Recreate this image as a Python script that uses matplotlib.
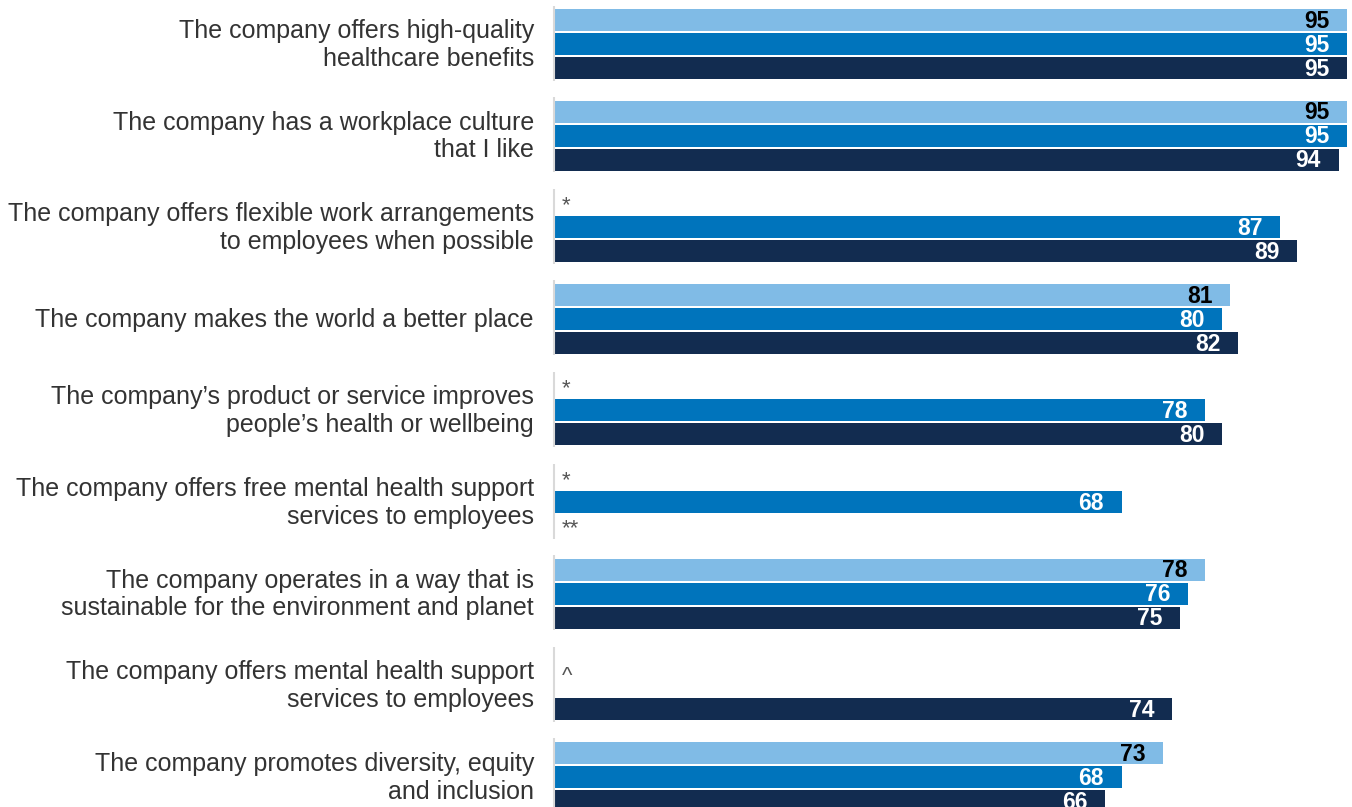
import matplotlib.pyplot as plt

plt.rcParams['font.family'] = ['Liberation Sans', 'DejaVu Sans']

categories = [
    "The company offers high-quality\nhealthcare benefits",
    "The company has a workplace culture\nthat I like",
    "The company offers flexible work arrangements\nto employees when possible",
    "The company makes the world a better place",
    "The company\u2019s product or service improves\npeople\u2019s health or wellbeing",
    "The company offers free mental health support\nservices to employees",
    "The company operates in a way that is\nsustainable for the environment and planet",
    "The company offers mental health support\nservices to employees",
    "The company promotes diversity, equity\nand inclusion",
]

# three survey waves; None = item not asked, with the footnote mark shown instead
light_vals = [95, 95, None, 81, None, None, 78, None, 73]
mid_vals = [95, 95, 87, 80, 78, 68, 76, None, 68]
dark_vals = [95, 94, 89, 82, 80, None, 75, 74, 66]
light_notes = [None, None, "*", None, "*", "*", None, "^", None]
mid_notes = [None] * 9
dark_notes = [None, None, None, None, None, "**", None, None, None]

colors = ["#80BBE6", "#0074BC", "#122C50"]
label_colors = ["black", "white", "white"]

fig = plt.figure(figsize=(13.52, 8.07), dpi=100)
ax = fig.add_axes([554 / 1352, 0, 793 / 1352, 1])

step = 0.262
height = 0.24
series = [light_vals, mid_vals, dark_vals]
notes = [light_notes, mid_notes, dark_notes]

for i, cat in enumerate(categories):
    for k in range(3):
        y = i + (k - 1) * step
        v = series[k][i]
        if v is not None:
            ax.barh(y, v, height=height, color=colors[k], edgecolor="none")
            ax.text(v - 2.1, y + 0.015, str(v), ha="right", va="center",
                    fontsize=16.5, fontweight="bold", color=label_colors[k])
        elif notes[k][i]:
            mark = notes[k][i]
            dy = 0.17 if mark == "^" else 0.03
            ax.text(0.95, y + dy, mark, ha="left", va="center",
                    fontsize=16, color="#555555")
    # short axis segment beside each group
    ax.plot([0, 0], [i - 0.42, i + 0.4], color="#D9D9D9", lw=1.5,
            solid_capstyle="butt", clip_on=False)
    ax.text(-2.4, i + 0.01, cat, ha="right", va="center", fontsize=18,
            color="#333333", linespacing=1.2)

ax.set_xlim(0, 95)
ax.set_ylim((807 - 44) / 91.6, -44 / 91.6)
ax.axis("off")

fig.savefig("out.png", dpi=100)
